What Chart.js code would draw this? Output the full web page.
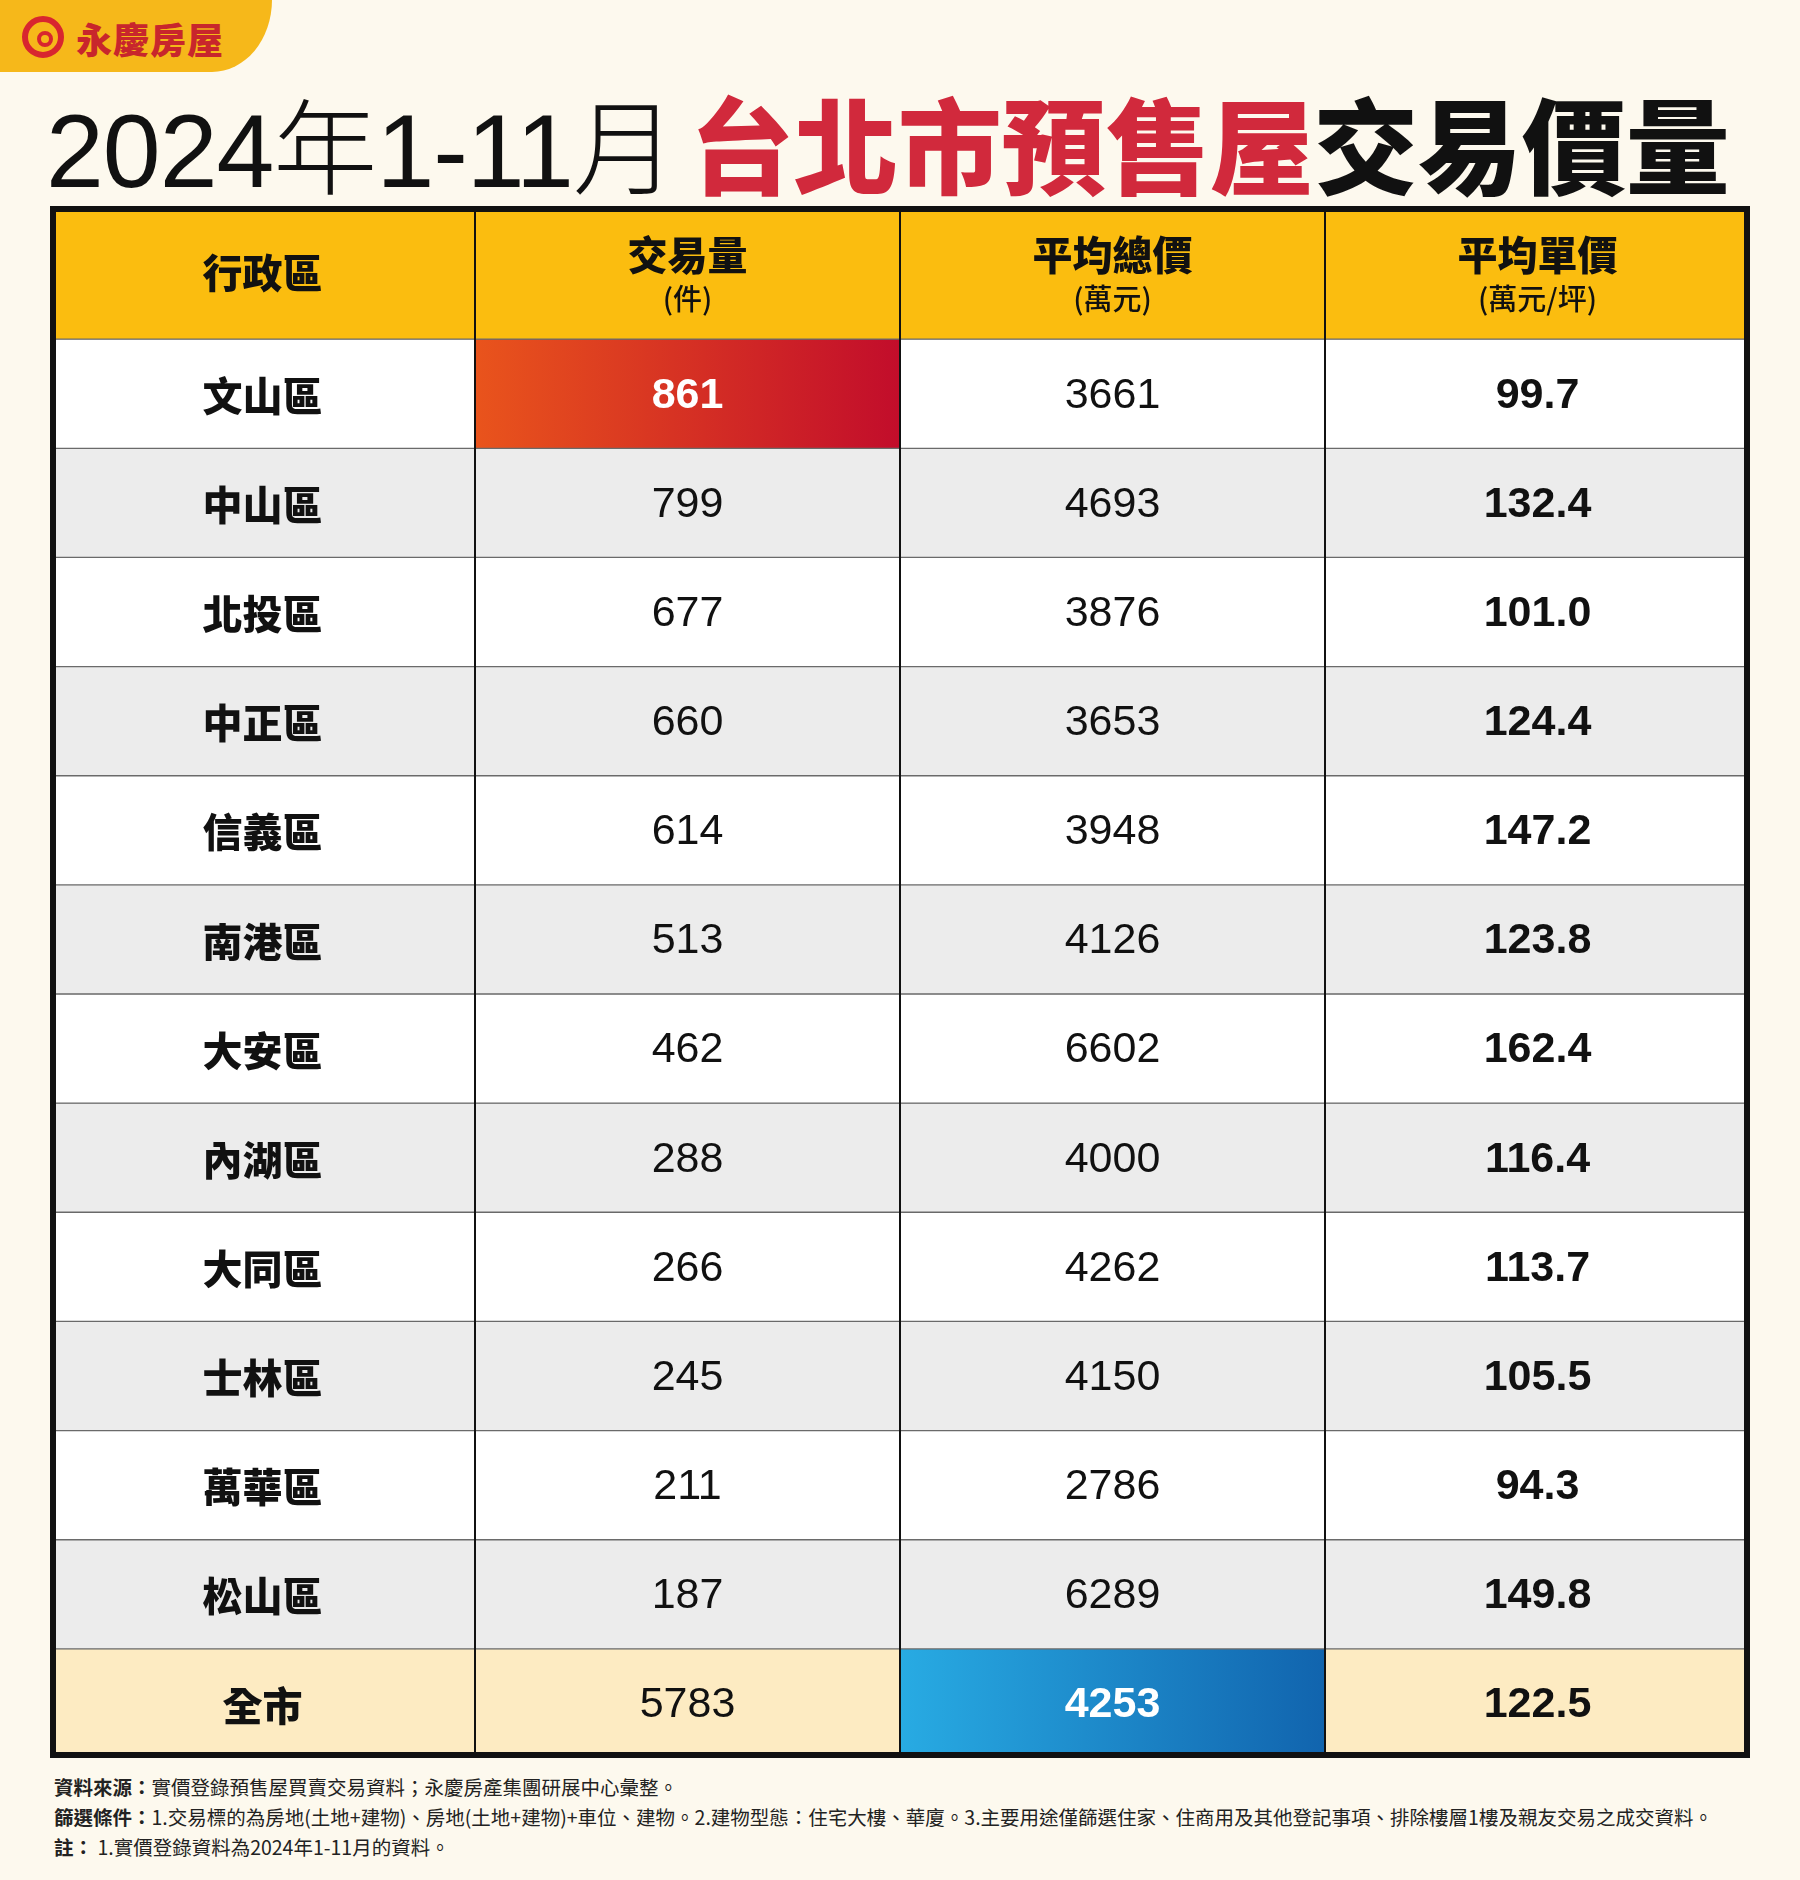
<!DOCTYPE html>
<html>
<head>
<meta charset="utf-8">
<script src="https://cdn.jsdelivr.net/npm/chart.js@4"></script>
<style>
  body { margin: 0; width: 1800px; height: 1880px; background: #fdf9ee; position: relative; overflow: hidden;
         font-family: "Noto Sans CJK TC", "Noto Sans", sans-serif; }
  .logo { position: absolute; left: 0; top: 0; width: 272px; height: 72px; background: #f6b81a;
          border-bottom-right-radius: 60px 72px; }
  .logo .ring { position: absolute; left: 22px; top: 16px; width: 42px; height: 42px; border: 6px solid #d8262f;
          border-radius: 50%; box-sizing: border-box; }
  .logo .ring::after { content: ""; position: absolute; left: 9px; top: 9px; width: 8px; height: 8px;
          border: 4px solid #d8262f; border-radius: 50%; }
  .logo span { position: absolute; left: 76px; top: 12px; font-size: 36px; font-weight: 900; color: #c8262c; letter-spacing: 1px; }
  .title { position: absolute; left: 46px; top: 80px; font-size: 104px; line-height: 124px; white-space: nowrap; }
  .title .a { font-family: "Liberation Sans", "Noto Sans CJK TC"; font-weight: 400; color: #111; letter-spacing: -1px; }
  .title .a i { font-style: normal; font-family: "Noto Sans CJK TC"; font-weight: 300; }
  .title .b { font-weight: 900; color: #d1293c; margin-left: 14px; }
  .title .c { font-weight: 900; color: #111; }
  #wrap { position: absolute; left: 50px; top: 206px; width: 1700px; height: 1552px; }
  .notes { position: absolute; left: 54px; top: 1772px; font-size: 19.5px; line-height: 30px; color: #222; white-space: nowrap; }
  .notes b { font-weight: 700; }
</style>
</head>
<body>
<div class="logo"><div class="ring"></div><span>永慶房屋</span></div>
<div class="title"><span class="a">2024<i>年</i>1-11<i>月</i></span><span class="b">台北市預售屋</span><span class="c">交易價量</span></div>
<div id="wrap"><canvas id="c" width="1700" height="1552"></canvas></div>
<div class="notes">
  <div><b>資料來源：</b>實價登錄預售屋買賣交易資料；永慶房產集團研展中心彙整。</div>
  <div><b>篩選條件：</b>1.交易標的為房地(土地+建物)、房地(土地+建物)+車位、建物。2.建物型態：住宅大樓、華廈。3.主要用途僅篩選住家、住商用及其他登記事項、排除樓層1樓及親友交易之成交資料。</div>
  <div><b>註：</b> 1.實價登錄資料為2024年1-11月的資料。</div>
</div>
<script>
const headers = ['行政區', '交易量', '平均總價', '平均單價'];
const headerUnits = ['', '(件)', '(萬元)', '(萬元/坪)'];
const districts = ['文山區', '中山區', '北投區', '中正區', '信義區', '南港區', '大安區', '內湖區', '大同區', '士林區', '萬華區', '松山區', '全市'];
const volume = [861, 799, 677, 660, 614, 513, 462, 288, 266, 245, 211, 187, 5783];
const avgTotal = [3661, 4693, 3876, 3653, 3948, 4126, 6602, 4000, 4262, 4150, 2786, 6289, 4253];
const avgUnit = [99.7, 132.4, 101.0, 124.4, 147.2, 123.8, 162.4, 116.4, 113.7, 105.5, 94.3, 149.8, 122.5];

const HEAD = 1.22; // header row height relative to a data row
const nRows = districts.length;
const total = HEAD + nRows;
function rowSpan(r) { // r = -1 header
  return r < 0 ? [0, HEAD] : [HEAD + r, HEAD + r + 1];
}
const rowsIdx = [-1].concat(districts.map((d, i) => i));
const cellText = (r, c) => {
  if (r < 0) return [headers[c], headerUnits[c]];
  if (c === 0) return [districts[r]];
  if (c === 1) return [String(volume[r])];
  if (c === 2) return [String(avgTotal[r])];
  return [avgUnit[r].toFixed(1)];
};

function cellColor(ctx, r, c) {
  const chart = ctx.chart;
  const xs = chart.scales.x;
  if (!xs || xs.left === undefined) return '#fff';
  const w = (xs.right - xs.left) / 4;
  const x0 = xs.left + c * w;
  if (r === 0 && c === 1) {
    const g = chart.ctx.createLinearGradient(x0, 0, x0 + w, 0);
    g.addColorStop(0, '#e9541c'); g.addColorStop(1, '#c20d2b');
    return g;
  }
  if (r === nRows - 1 && c === 2) {
    const g = chart.ctx.createLinearGradient(x0, 0, x0 + w, 0);
    g.addColorStop(0, '#28abe3'); g.addColorStop(1, '#1164ae');
    return g;
  }
  if (r < 0) return '#fbbd0f';
  if (r === nRows - 1) return '#fdebc2';
  return r % 2 === 1 ? '#ececec' : '#ffffff';
}

const datasets = rowsIdx.map(r => ({
  data: headers.map(() => rowSpan(r)),
  backgroundColor: ctx => cellColor(ctx, r, ctx.dataIndex),
  borderColor: '#6a6a6a',
  borderWidth: 1,
  borderSkipped: false,
  categoryPercentage: 1,
  barPercentage: 1,
  grouped: false,
  rowIndex: r
}));

const textPlugin = {
  id: 'cellText',
  afterDatasetsDraw(chart) {
    const g = chart.ctx;
    const xs = chart.scales.x, ys = chart.scales.y;
    const w = (xs.right - xs.left) / 4;
    g.save();
    g.strokeStyle = '#111'; g.lineWidth = 2;
    for (let c = 1; c < 4; c++) {
      const x = xs.left + c * w;
      g.beginPath(); g.moveTo(x, ys.top); g.lineTo(x, ys.bottom); g.stroke();
    }
    g.textAlign = 'center'; g.textBaseline = 'middle';
    chart.data.datasets.forEach(ds => {
      const r = ds.rowIndex;
      const [a, b] = rowSpan(r);
      const yc = (ys.getPixelForValue(a) + ys.getPixelForValue(b)) / 2;
      headers.forEach((h, c) => {
        const xc = xs.left + (c + 0.5) * w;
        const t = cellText(r, c);
        if (r < 0) {
          g.fillStyle = '#111';
          if (t[1]) {
            g.font = '900 40px "Noto Sans CJK TC"';
            g.fillText(t[0], xc, yc - 18);
            g.font = '500 29px "Noto Sans CJK TC"';
            g.fillText(t[1], xc, yc + 26);
          } else {
            g.font = '900 40px "Noto Sans CJK TC"';
            g.fillText(t[0], xc, yc);
          }
          return;
        }
        const hl = (r === 0 && c === 1) || (r === nRows - 1 && c === 2);
        g.fillStyle = hl ? '#ffffff' : '#111';
        if (c === 0) g.font = '900 40px "Noto Sans CJK TC"';
        else if (c === 3 || hl) g.font = 'bold 43px "Liberation Sans"';
        else g.font = '43px "Liberation Sans"';
        g.fillText(t[0], xc, yc + 2);
      });
    });
    g.strokeStyle = '#111'; g.lineWidth = 6;
    g.strokeRect(xs.left + 3, ys.top + 3, xs.right - xs.left - 6, ys.bottom - ys.top - 6);
    g.restore();
  }
};

new Chart(document.getElementById('c').getContext('2d'), {
  type: 'bar',
  data: { labels: headers, datasets },
  options: {
    responsive: false,
    animation: false,
    layout: { padding: 0 },
    plugins: { legend: { display: false }, tooltip: { enabled: false } },
    scales: {
      x: { display: false, offset: true },
      y: { display: false, type: 'linear', reverse: true, min: 0, max: total }
    }
  },
  plugins: [textPlugin]
});
</script>
</body>
</html>
